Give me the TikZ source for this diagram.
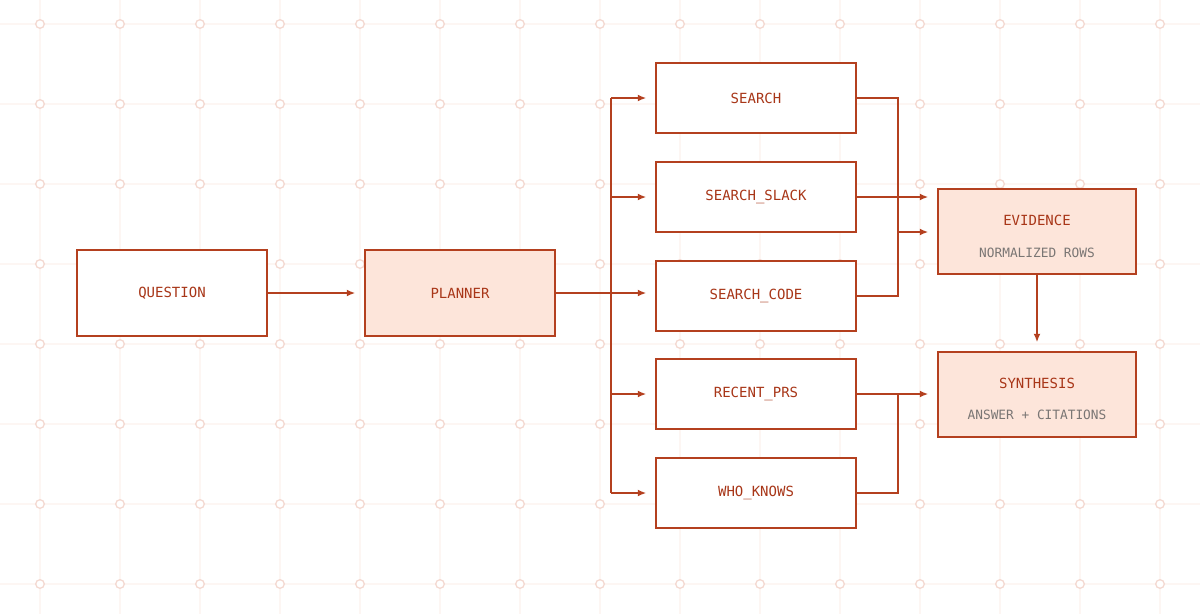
\documentclass[tikz,border=0pt]{standalone}
\usepackage{fontspec}
\setmonofont{DejaVu Sans Mono}
\usetikzlibrary{arrows.meta}
\definecolor{rust}{RGB}{180,64,31}
\definecolor{rusttext}{RGB}{168,54,24}
\definecolor{peach}{RGB}{253,229,218}
\definecolor{gridline}{RGB}{253,246,243}
\definecolor{griddot}{RGB}{244,217,209}
\definecolor{subgray}{RGB}{122,118,116}
\tikzset{
  box/.style={draw=rust, line width=1.5pt, inner sep=0pt, fill=white,
    font=\ttfamily\fontsize{14}{16}\selectfont, text=rusttext},
  wide/.style={box, minimum width=190pt, minimum height=86pt},
  tool/.style={box, minimum width=200pt, minimum height=70pt},
  stage/.style={box, fill=peach, minimum width=198pt, minimum height=85pt},
  title/.style={inner sep=0pt, font=\ttfamily\fontsize{14}{16}\selectfont, text=rusttext},
  subtitle/.style={inner sep=0pt, font=\ttfamily\fontsize{12.8}{15}\selectfont, text=subgray},
  wire/.style={draw=rust, line width=1.6pt},
  link/.style={wire, -{Latex[length=8.5pt,width=7pt]}, shorten >=9pt},
}
\begin{document}
\begin{tikzpicture}[x=1pt,y=1pt,yscale=-1]
\useasboundingbox (0,0) rectangle (1200,614);
\fill[white] (0,0) rectangle (1200,614);
% background grid
\foreach \gx in {40,120,...,1160}
  \draw[gridline, line width=1.5pt] (\gx,0) -- (\gx,614);
\foreach \gy in {24,104,...,584}
  \draw[gridline, line width=1.5pt] (0,\gy) -- (1200,\gy);
\foreach \gx in {40,120,...,1160}
  \foreach \gy in {24,104,...,584}
    \draw[griddot, line width=1.3pt, fill=white] (\gx,\gy) circle (4.3);

% boxes
\node[wide] (question) at (172,293) {QUESTION};
\node[wide, fill=peach] (planner) at (460,293) {PLANNER};
\node[tool] (search) at (756,98) {SEARCH};
\node[tool] (slack) at (756,197) {SEARCH\_SLACK};
\node[tool] (code) at (756,296) {SEARCH\_CODE};
\node[tool] (recent) at (756,394) {RECENT\_PRS};
\node[tool] (who) at (756,493) {WHO\_KNOWS};
\node[stage] (evidence) at (1037,231.5) {};
\node[title] (evidencet) at (1037,220) {EVIDENCE};
\node[subtitle] (evidences) at (1037,253) {NORMALIZED ROWS};
\node[stage] (synthesis) at (1037,394.5) {};
\node[title] (synthesist) at (1037,383) {SYNTHESIS};
\node[subtitle] (synthesiss) at (1037,415) {ANSWER + CITATIONS};

% fan out
\coordinate (busl) at (611,293);
\coordinate (busr) at (898,232);
\draw[link] (question) -- (planner);
\draw[wire] (planner.east) -- (busl);
\draw[wire] (busl |- search.west) -- (busl |- who.west);
\foreach \t in {search,slack,recent,who}
  \draw[link] (busl |- \t.west) -- (\t.west);
\draw[link] (busl) -- (code.west |- busl);

% fan in
\draw[wire] (search.east) -| (busr |- code.east) -- (code.east);
\draw[link] (busr) -- (evidence.west |- busr);
\draw[link] (slack.east) -- (evidence.west |- slack.east);
\draw[wire] (who.east) -| (busr |- recent.east);
\draw[link] (recent.east) -- (synthesis.west |- recent.east);
\draw[link] (evidence.south) -- (synthesis.north);
\end{tikzpicture}
\end{document}
